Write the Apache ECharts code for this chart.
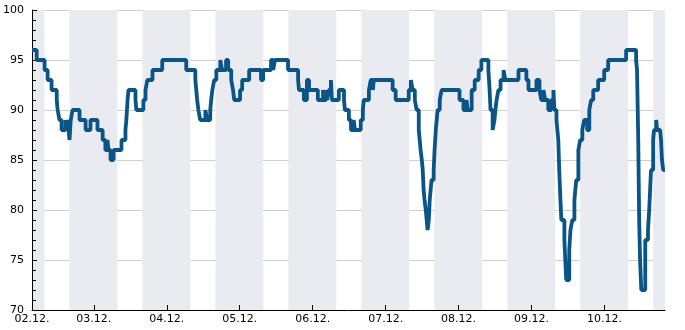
<!DOCTYPE html>
<html>
<head>
<meta charset="utf-8">
<script src="https://cdn.jsdelivr.net/npm/echarts@6/dist/echarts.min.js"></script>
<style>html,body{margin:0;padding:0;background:#fff}#c{width:685px;height:330px}</style>
</head>
<body>
<div id="c"></div>
<script>
// time in hours since 02.12. 00:00
var xMin = 3.66, xMax = 211.9;
var dayLabels = ['02.12.','03.12.','04.12.','05.12.','06.12.','07.12.','08.12.','09.12.','10.12.'];
var dayHours = [24,48,72,96,120,144,168,192];
var nightStart = [-8, 16, 40, 64, 88, 112, 136, 160, 184, 208];
var nightEnd = [7.75, 31.75, 55.75, 79.75, 103.75, 127.75, 151.75, 175.75, 199.75, 223.75];

var hours = [3.66,5.2,7.8,8.8,10.1,11.8,12.1,12.7,13.4,14.7,15.0,15.4,15.7,16.0,16.4,17.0,19.3,21.3,22.9,25.2,26.9,27.8,28.5,28.8,29.5,30.5,33.1,34.4,34.7,35.1,35.4,37.7,38.0,40.3,41.0,41.6,43.3,46.5,54.4,57.4,57.7,58.0,58.4,59.0,60.7,61.3,62.3,62.6,63.0,63.6,64.3,65.6,66.2,67.5,68.2,69.2,69.8,70.2,72.1,72.8,75.1,79.0,79.7,82.3,83.0,83.6,87.9,91.2,91.5,93.1,94.1,94.8,97.7,99.4,99.7,100.4,100.7,101.3,102.0,102.3,104.6,106.3,106.6,107.9,108.6,109.5,109.9,111.8,112.5,112.8,114.5,115.1,115.8,116.1,122.3,123.3,127.6,128.3,128.9,129.6,130.2,130.9,131.2,131.5,131.9,132.2,132.5,132.8,133.2,133.5,133.8,134.2,134.5,134.8,135.1,135.8,136.1,136.5,136.8,137.1,137.8,138.4,144.3,145.6,146.6,147.0,148.3,149.3,150.6,151.5,153.8,154.2,154.5,155.2,155.8,156.1,156.5,157.1,157.8,158.8,159.4,163.7,166.3,167.0,169.6,170.6,171.2,171.9,172.5,173.5,174.5,175.2,175.5,176.2,176.8,177.1,177.5,177.8,178.8,179.4,180.4,180.8,181.4,182.1,182.7,183.4,184.0,184.7,185.3,186.3,187.0,187.6,188.3,189.9,191.9,193.2,199.1,202.4,202.7,203.1,203.4,203.7,204.1,205.4,206.3,206.7,207.3,208.0,208.3,209.0,209.3,210.3,210.6,210.9,211.3,211.9];
var humidity = [96,95,94,93,92,91,90,89,88,89,88,89,88,87,89,90,89,88,89,88,87,86,87,86,85,86,87,88,89,91,92,91,90,91,92,93,94,95,94,93,92,91,90,89,90,89,90,91,92,93,94,95,94,95,94,93,92,91,92,93,94,93,94,95,94,95,94,93,92,91,93,92,91,92,91,92,91,92,93,91,92,91,90,89,88,89,88,89,90,91,92,93,92,93,92,91,92,93,92,91,90,88,87,86,85,84,82,81,80,79,78,79,81,82,83,84,86,88,89,90,91,92,91,90,91,90,92,93,94,95,94,92,90,88,89,90,91,92,93,94,93,94,93,92,93,92,91,92,91,90,91,92,90,89,87,84,81,79,77,73,76,78,79,81,83,86,87,88,89,88,90,91,92,93,94,95,96,95,94,87,79,75,72,77,78,80,84,87,88,89,88,88,87,85,84,84];

var lineData = hours.map(function (h, i) { return [h, humidity[i]]; });
var bands = nightStart.map(function (s, i) {
  return [{ xAxis: Math.max(s, xMin) }, { xAxis: Math.min(nightEnd[i], xMax) }];
});
var labelValues = [xMin].concat(dayHours);

var font = { fontFamily: 'DejaVu Sans', fontSize: 11, color: '#000' };
var chart = echarts.init(document.getElementById('c'), null, { renderer: 'canvas' });
chart.setOption({
  animation: false,
  grid: { left: 30, top: 10, right: 20, bottom: 20, containLabel: false },
  xAxis: {
    type: 'value', min: xMin, max: xMax, z: 1,
    axisLine: { show: true, onZero: false, lineStyle: { color: '#000', width: 1 } },
    axisTick: { show: true, inside: true, length: 5, customValues: dayHours, lineStyle: { color: '#000' } },
    axisLabel: Object.assign({
      customValues: labelValues, margin: 4, hideOverlap: false,
      formatter: function (v) { return dayLabels[Math.floor(v / 24)]; }
    }, font),
    splitLine: { show: true, lineStyle: { color: '#d0d0d0', width: 1 } }
  },
  yAxis: {
    type: 'value', min: 70, max: 100, interval: 5, z: 1,
    axisLine: { show: true, lineStyle: { color: '#000', width: 1 } },
    axisTick: { show: true, inside: true, length: 5, lineStyle: { color: '#000' } },
    minorTick: { show: true, splitNumber: 5, length: 4, lineStyle: { color: '#000' } },
    axisLabel: Object.assign({ margin: 8 }, font),
    splitLine: { show: true, lineStyle: { color: '#d0d0d0', width: 1 } }
  },
  series: [
    {
      type: 'line', z: 0, data: [], silent: true,
      markArea: { silent: true, itemStyle: { color: '#eaebf1' }, data: bands }
    },
    {
      type: 'line', z: 2, data: lineData, step: 'end', showSymbol: false, symbol: 'none',
      lineStyle: { color: '#0a5587', width: 3.8, join: 'bevel' }, clip: true
    }
  ]
});
</script>
</body>
</html>
